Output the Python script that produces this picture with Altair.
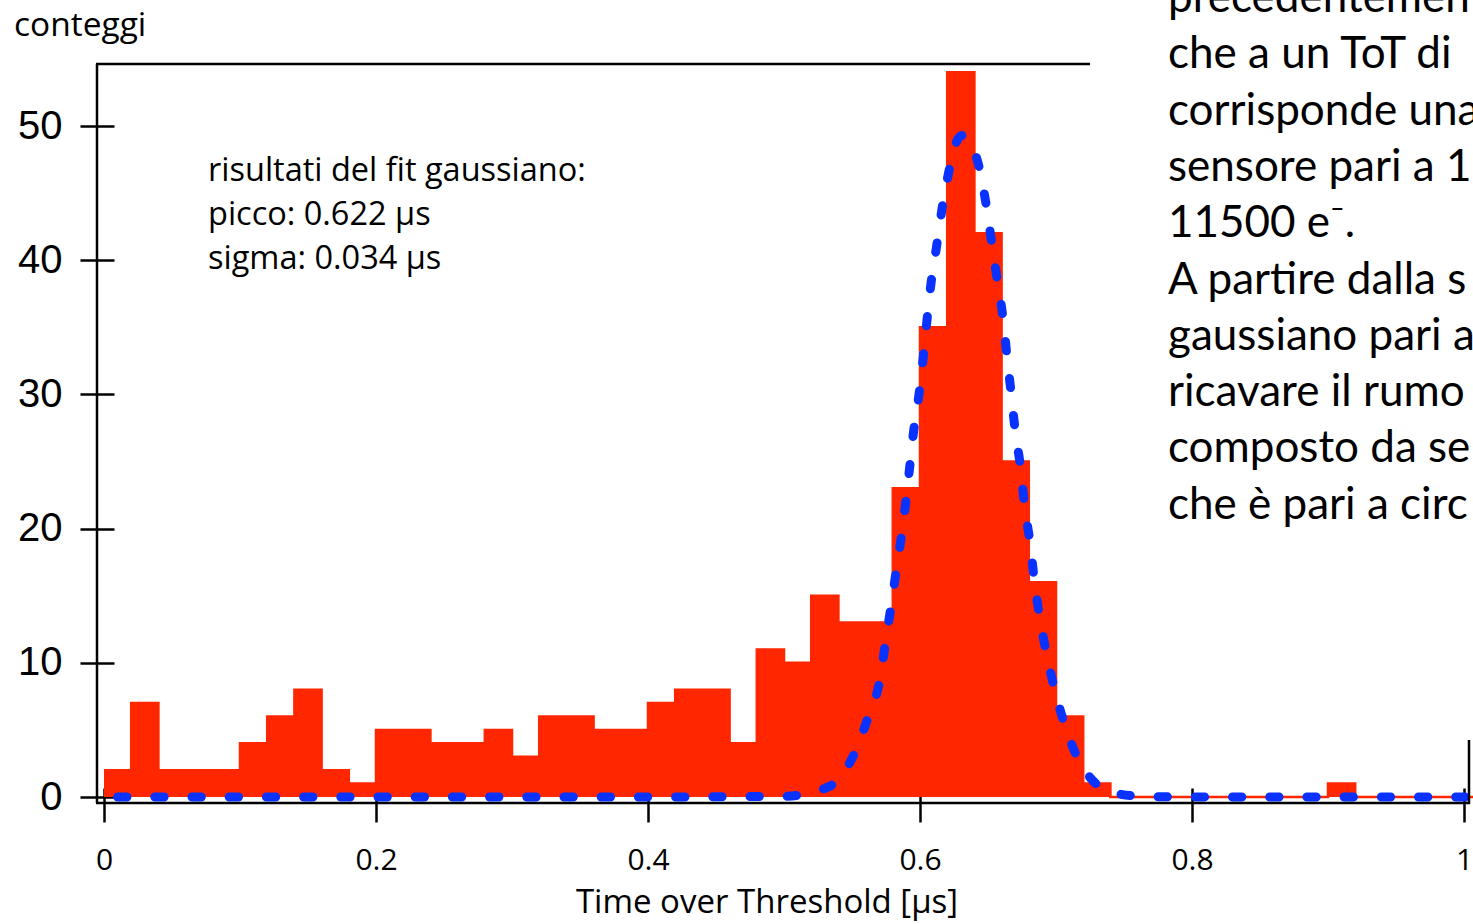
import altair as alt
import pandas as pd

# ---------------- data ----------------
bin_start = [0.00, 0.02, 0.04, 0.06, 0.08, 0.10, 0.12, 0.14, 0.16, 0.18,
             0.20, 0.22, 0.24, 0.26, 0.28, 0.30, 0.32, 0.34, 0.36, 0.38,
             0.40, 0.42, 0.44, 0.46, 0.48, 0.50, 0.52, 0.54, 0.56, 0.58,
             0.60, 0.62, 0.64, 0.66, 0.68, 0.70, 0.72, 0.74, 0.76, 0.78,
             0.80, 0.82, 0.84, 0.86, 0.88, 0.90, 0.92, 0.94, 0.96, 0.98,
             1.00, 1.02]
counts = [2, 7, 2, 2, 2, 4, 6, 8, 2, 1,
          5, 5, 4, 4, 5, 3, 6, 6, 5, 5,
          7, 8, 8, 4, 11, 10, 15, 13, 13, 23,
          35, 54, 42, 25, 16, 6, 1, 0, 0, 0,
          0, 0, 0, 0, 0, 1, 0, 0, 0, 0,
          0, 0]

# Gaussian fit curve
fit_t = [0.01, 0.10, 0.20, 0.30, 0.40, 0.50, 0.533, 0.552, 0.562, 0.571,
         0.575, 0.579, 0.583, 0.587, 0.592, 0.595, 0.599, 0.602, 0.605, 0.608,
         0.612, 0.616, 0.621, 0.626, 0.631, 0.636, 0.644, 0.649, 0.653, 0.657,
         0.661, 0.664, 0.667, 0.670, 0.674, 0.677, 0.681, 0.684, 0.688, 0.693,
         0.699, 0.707, 0.718, 0.743, 0.77, 0.85, 0.95, 1.01]
fit_n = [0, 0, 0, 0, 0, 0.05, 0.77, 3.3, 6.0, 9.0,
         11.8, 14.4, 17.2, 19.9, 24.2, 27.0, 29.8, 32.4, 35.4, 38.2,
         40.9, 43.7, 46.5, 48.6, 49.3, 48.9, 46.7, 43.9, 41.1, 38.4,
         35.7, 32.8, 30.1, 27.3, 24.5, 21.6, 18.9, 16.2, 13.4, 10.7,
         8.0, 5.2, 2.5, 0.28, 0.02, 0, 0, 0]

x_ticks = [0, 0.2, 0.4, 0.6, 0.8, 1]
y_ticks = [0, 10, 20, 30, 40, 50]

annotation = ["risultati del fit gaussiano:", "picco: 0.622 \u00b5s", "sigma: 0.034 \u00b5s"]
side_text = ["precedentemen", "che a un ToT di", "corrisponde una", "sensore pari a 1",
             "11500 e\u207b.", "A partire dalla s", "gaussiano pari a", "ricavare il rumo",
             "composto da se", "che \u00e8 pari a circ"]
x_title = "Time over Threshold [\u00b5s]"
y_title = "conteggi"

RED = "#FF2600"
BLUE = "#0A32FF"
W, H = 1360, 733

hist_df = pd.DataFrame({"t": bin_start, "n": counts})
fit_df = pd.DataFrame({"t": fit_t, "n": fit_n})
one = pd.DataFrame({"k": [0]})

xs = alt.Scale(domain=[0, 1], nice=False, zero=False)
ys = alt.Scale(domain=[0, 54.62], nice=False)

x_axis = alt.Axis(values=x_ticks, format="~g", offset=-9, tickSize=34, tickWidth=2.5,
                  tickColor="black", domain=False, grid=False, labelFlush=False,
                  labelFont="Open Sans", labelFontSize=30, labelColor="black",
                  labelBaseline="alphabetic", labelPadding=47, title=None)
y_axis = alt.Axis(values=y_ticks, format="d", offset=-10, tickSize=34, tickWidth=2.5,
                  tickColor="black", domain=False, grid=False,
                  labelFont="Liberation Sans", labelFontSize=40, labelColor="black",
                  labelPadding=18, title=None)

bars = alt.Chart(hist_df).mark_area(interpolate="step-after", color=RED, opacity=1).encode(
    x=alt.X("t:Q", scale=xs, axis=x_axis),
    y=alt.Y("n:Q", scale=ys, axis=y_axis),
)
outline = alt.Chart(hist_df).mark_line(interpolate="step-after", color=RED, strokeWidth=2.5).encode(
    x=alt.X("t:Q", scale=xs), y=alt.Y("n:Q", scale=ys)
)
fit = alt.Chart(fit_df).mark_line(interpolate="monotone", color=BLUE, strokeWidth=9,
                                  strokeCap="round", strokeJoin="round",
                                  strokeDash=[9.3, 27.9]).encode(
    x=alt.X("t:Q", scale=xs), y=alt.Y("n:Q", scale=ys)
)

def rule(**enc):
    return alt.Chart(one).mark_rule(color="black", strokeWidth=2.5).encode(**enc)

frame = [
    rule(x=alt.value(-7), y=alt.value(0), y2=alt.value(739)),
    rule(x=alt.value(-8), x2=alt.value(986), y=alt.value(0)),
    rule(x=alt.value(-8), x2=alt.value(1366), y=alt.value(739)),
    rule(x=alt.value(1365), y=alt.value(676), y2=alt.value(740)),
]

def text(lines, px, py, font, size, lh=None, align="left"):
    kw = dict(align=align, baseline="alphabetic", font=font, fontSize=size, color="black")
    if lh is not None:
        kw["lineHeight"] = lh
    return alt.Chart(one).mark_text(**kw).encode(
        x=alt.value(px), y=alt.value(py), text=alt.value(lines))

texts = [
    text(y_title, -90, -28, "Open Sans", 33.5),
    text(x_title, 663, 849, "Open Sans", 33, align="center"),
    text(annotation, 104, 117, "Open Sans", 32.5, lh=44),
    text(side_text, 1064, -52, "Lato", 44, lh=56.3),
]

chart = alt.layer(bars, outline, fit, *frame, *texts).properties(
    width=W, height=H,
    autosize=alt.AutoSizeParams(type="none"),
    padding={"left": 104, "top": 64, "right": 9, "bottom": 127},
).configure_view(stroke=None)

chart.save("out.html", embed_options={"renderer": "svg", "actions": False})
